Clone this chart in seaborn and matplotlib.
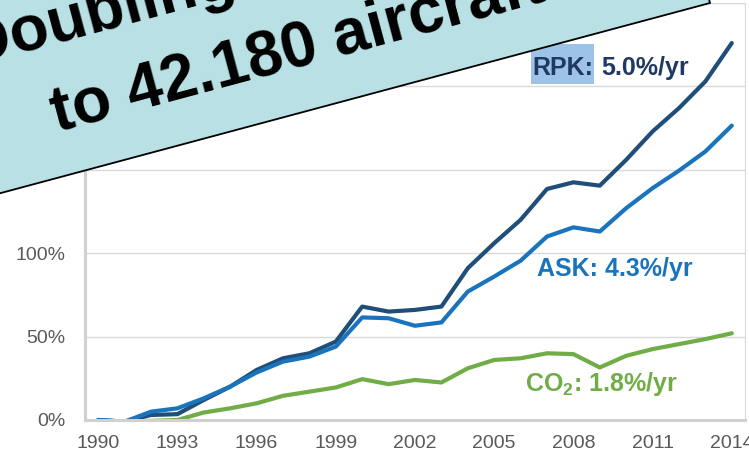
import matplotlib
matplotlib.use("Agg")
import matplotlib.pyplot as plt
import matplotlib.transforms as mtransforms
from matplotlib.patches import Polygon, Rectangle
import numpy as np
import pandas as pd
import seaborn as sns

# Traffic and emissions growth since 1990 (cumulative %, 1990 = 0)
years = list(range(1990, 2015))
rpk = [0, -1, 3, 3.5, 12, 20, 30, 37, 40, 47, 68, 65, 66, 68, 91,
       106, 120, 138.5, 142.5, 140.5, 156, 173, 187, 203, 226]
ask = [0, -1, 5, 7, 13, 20, 28.5, 35, 38, 44, 61.5, 61, 56.5, 58.5, 77,
       86, 95.5, 110, 115.5, 113, 127, 139, 149.5, 161, 176.5]
co2 = [0, -1, -0.5, 0, 4.5, 7, 10, 14.5, 17, 19.5, 24.5, 21.5, 24, 22.5, 31,
       36, 37, 40, 39.5, 31.5, 38.5, 42.5, 45.5, 48.5, 52]

series_names = ["CO2", "RPK", "ASK"]
series_values = {"CO2": co2, "RPK": rpk, "ASK": ask}
colors = {"RPK": "#1F4E79", "ASK": "#1A74BD", "CO2": "#70AD47"}

xtick_years = years[::3]
ytick_values = [0, 50, 100, 150, 200, 250]

headline = ["Doubling the fleet", "to 42.180 aircraft"]

df = pd.DataFrame(
    [(y, v, name) for name in series_names for y, v in zip(years, series_values[name])],
    columns=["year", "value", "series"],
)

sns.set_theme(style="white")
plt.rcParams["font.family"] = ["Liberation Sans", "DejaVu Sans"]
plt.rcParams["mathtext.fontset"] = "custom"
plt.rcParams["mathtext.rm"] = "Liberation Sans:bold"
plt.rcParams["mathtext.bf"] = "Liberation Sans:bold"

W, H = 749, 455
fig = plt.figure(figsize=(W / 100, H / 100), dpi=100)
ax = fig.add_axes([85 / W, 1 - 420 / H, 660 / W, 417 / H])

sns.lineplot(data=df, x="year", y="value", hue="series", hue_order=series_names,
             palette=colors, linewidth=3, legend=False, ax=ax)

ax.set_xlim(1989.5, 2014.5)
ax.set_ylim(0, 250)
ax.set_xticks(xtick_years)
ax.set_xticklabels([str(y) for y in xtick_years])
ax.set_yticks(ytick_values)
ax.set_yticklabels([f"{v}%" for v in ytick_values])
ax.set_xlabel("")
ax.set_ylabel("")
ax.tick_params(axis="both", length=0, labelsize=14, labelcolor="#595959")
ax.tick_params(axis="y", pad=14)
ax.tick_params(axis="x", pad=11)
ax.yaxis.grid(True, color="#D9D9D9", linewidth=1)
ax.xaxis.grid(False)
ax.set_axisbelow(True)
for side in ["left", "bottom"]:
    ax.spines[side].set_color("#D0D0D0")
    ax.spines[side].set_linewidth(2.2)
for side in ["top", "right"]:
    ax.spines[side].set_color("#DADADA")
    ax.spines[side].set_linewidth(0.8)

# Growth-rate labels
lab_kw = dict(fontsize=18, fontweight="bold", va="baseline", ha="left")
t_rpk = ax.text(2006.43, 206.8, "RPK:", color="#203864", zorder=6, **lab_kw)
ax.annotate("5.0%/yr", xy=(1, 0), xycoords=t_rpk, xytext=(8, 0),
            textcoords="offset pixels", va="bottom", ha="left",
            fontsize=18, fontweight="bold", color="#203864", zorder=6)
ax.text(2006.62, 86.6, "ASK: 4.3%/yr", color=colors["ASK"], **lab_kw)
ax.text(2006.17, 17.4, r"CO$_{2}$: 1.8%/yr", color=colors["CO2"], **lab_kw)

# Highlight behind "RPK:"
ident = mtransforms.IdentityTransform()
fig.canvas.draw()
ext = t_rpk.get_window_extent(fig.canvas.get_renderer())
ax.add_artist(Rectangle((ext.x0 - 1, ext.y0 - 4), ext.width + 2, ext.height + 16,
                        transform=ident, facecolor="#9DC3E6",
                        edgecolor="none", zorder=5, clip_on=False))

# Rotated headline banner
ang = np.deg2rad(15)
u = np.array([np.cos(ang), -np.sin(ang)])      # along banner (y down)
up = np.array([-np.sin(ang), -np.cos(ang)])    # towards banner top (y down)
br = np.array([710.0, 3.0])
bl = br - 1100 * u
tr = br + 450 * up
tl = bl + 450 * up


def to_disp(p):
    return (p[0], H - p[1])


banner = Polygon([to_disp(p) for p in (bl, br, tr, tl)], closed=True,
                 transform=ident, facecolor="#B9E0E4", edgecolor="black",
                 linewidth=1.3, zorder=10)
fig.add_artist(banner)

line2 = np.array([57.0, 132.0])
line1 = line2 - 66 * u + 86 * up
for pos, txt in zip([line1, line2], headline):
    fig.text(*to_disp(pos), txt, transform=ident, rotation=15,
             rotation_mode="anchor", ha="left", va="baseline",
             fontsize=46, fontweight="bold", color="black", zorder=11)

fig.savefig("out.png", dpi=100)
